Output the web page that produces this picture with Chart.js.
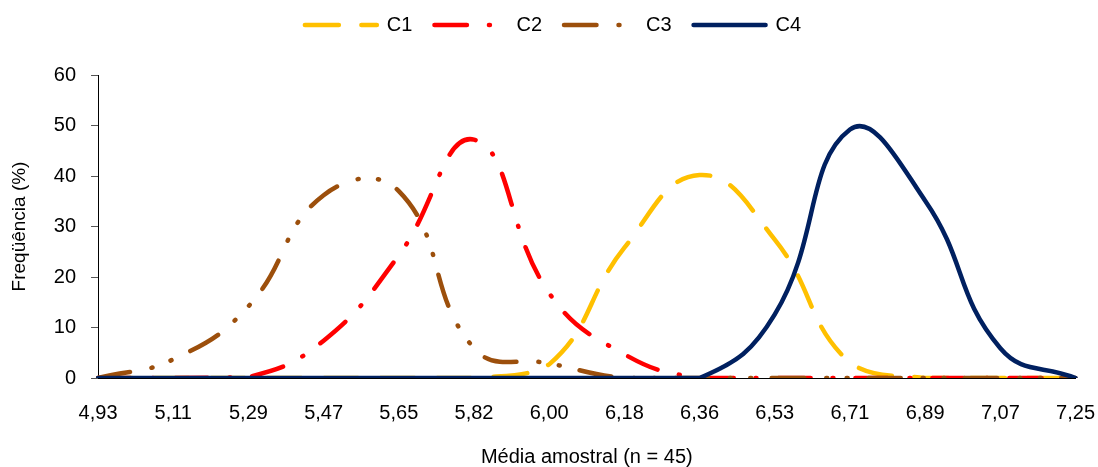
<!DOCTYPE html>
<html>
<head>
<meta charset="utf-8">
<script src="https://cdn.jsdelivr.net/npm/chart.js@4.4.1/dist/chart.umd.min.js"></script>
<style>
  html, body { margin: 0; padding: 0; background: #fff; }
  #wrap { width: 1098px; height: 467px; position: relative; }
</style>
</head>
<body>
<div id="wrap"><canvas id="chart"></canvas></div>
<script>
// x axis categories (sample mean)
const mediaLabels = ["4,93", "5,11", "5,29", "5,47", "5,65", "5,82", "6,00",
                     "6,18", "6,36", "6,53", "6,71", "6,89", "7,07", "7,25"];

// frequency (%) per class
const c1 = [0, 0, 0, 0, 0, 0, 2.7, 25.8, 40.2, 27.4, 3.0, 0, 0, 0];
const c2 = [0, 0, 0.2, 7.4, 24.3, 47.2, 16.8, 4.7, 0, 0, 0, 0, 0, 0];
const c3 = [0, 3.7, 14.2, 36.2, 37.0, 5.9, 2.9, 0, 0, 0, 0, 0, 0, 0];
const c4 = [0, 0, 0, 0, 0, 0, 0, 0, 0, 12.6, 49.2, 35.1, 5.9, 0];

const yTicks = [0, 10, 20, 30, 40, 50, 60];

Chart.defaults.font.family = "'Liberation Sans', Arial, sans-serif";
Chart.defaults.color = "#000";

function serie(label, data, color, dash, order) {
  return {
    label: label,
    data: data,
    borderColor: color,
    backgroundColor: color,
    borderWidth: 4.5,
    borderDash: dash,
    borderCapStyle: "round",
    borderJoinStyle: "round",
    pointRadius: 0,
    pointHoverRadius: 0,
    tension: 0.45,
    fill: false,
    order: order
  };
}

// extra space under the legend
const legendGap = {
  id: "legendGap",
  beforeInit(chart) {
    const fit = chart.legend.fit;
    chart.legend.fit = function () {
      fit.bind(this)();
      this.height += 30;
    };
  }
};

const ctx = document.getElementById("chart").getContext("2d");
new Chart(ctx, {
  type: "line",
  data: {
    labels: mediaLabels,
    datasets: [
      serie("C1", c1, "#ffc000", [34, 22.5], 4),
      serie("C2", c2, "#ff0000", [32.5, 22, 1, 21.5], 3),
      serie("C3", c3, "#9c4f0c", [32.5, 22, 1, 19.5, 1, 20.5], 2),
      serie("C4", c4, "#002060", [], 1)
    ]
  },
  plugins: [legendGap],
  options: {
    responsive: true,
    maintainAspectRatio: false,
    animation: false,
    layout: { padding: { top: -7, left: 8, right: 0, bottom: -2 } },
    plugins: {
      tooltip: { enabled: false },
      legend: {
        position: "top",
        labels: {
          usePointStyle: true,
          pointStyle: "line",
          pointStyleWidth: 72,
          boxHeight: 20,
          padding: 22,
          font: { size: 20 },
          sort: (a, b) => a.datasetIndex - b.datasetIndex,
          generateLabels: (chart) => {
            const items = Chart.defaults.plugins.legend.labels.generateLabels(chart);
            items.forEach((it) => {
              const ds = chart.data.datasets[it.datasetIndex];
              it.lineDash = ds.borderDash;
              it.lineCap = "round";
              it.lineWidth = ds.borderWidth;
              it.strokeStyle = ds.borderColor;
            });
            return items;
          }
        }
      }
    },
    scales: {
      x: {
        type: "category",
        offset: false,
        grid: { drawOnChartArea: false, drawTicks: true, tickLength: 20, tickColor: "rgba(0,0,0,0)" },
        border: { color: "#000", width: 1 },
        ticks: { font: { size: 20 }, padding: 3, maxRotation: 0, autoSkip: false },
        title: {
          display: true,
          text: "Média amostral (n = 45)",
          font: { size: 20 },
          padding: { top: 17, bottom: 0 }
        }
      },
      y: {
        min: 0,
        max: 60,
        afterBuildTicks: (axis) => { axis.ticks = yTicks.map((v) => ({ value: v })); },
        grid: { drawOnChartArea: false, tickLength: 7, color: "#555" },
        border: { color: "#000", width: 1 },
        ticks: { font: { size: 20 }, padding: 15 },
        title: {
          display: true,
          text: "Freqüência (%)",
          font: { size: 19 },
          padding: { top: 0, bottom: 8 }
        }
      }
    }
  }
});
</script>
</body>
</html>
